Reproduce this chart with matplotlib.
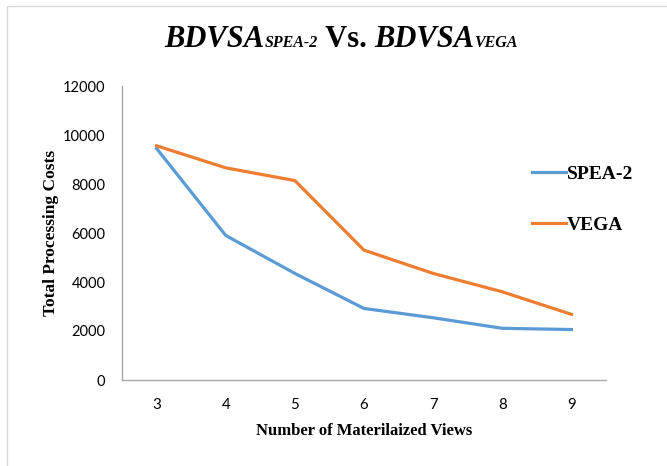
import matplotlib
matplotlib.use("Agg")
import matplotlib.pyplot as plt
from matplotlib.patches import Rectangle

views = [3, 4, 5, 6, 7, 8, 9]
spea2 = [9450, 5900, 4350, 2920, 2540, 2110, 2060]
vega = [9560, 8660, 8140, 5300, 4350, 3600, 2680]
series_names = ["SPEA-2", "VEGA"]
y_ticks = [0, 2000, 4000, 6000, 8000, 10000, 12000]

W, H, DPI = 667, 466, 100
fig = plt.figure(figsize=(W / DPI, H / DPI), dpi=DPI)

# outer frame
fig.add_artist(Rectangle((7 / W, -0.05), 1.2, 1 - 6 / H + 0.05, transform=fig.transFigure,
                         fill=False, edgecolor="#D9D9D9", linewidth=1.0))

ax = fig.add_axes([122 / W, 1 - 380 / H, (606 - 122) / W, (380 - 86) / H])
ax.plot(views, spea2, color="#5B9BD5", lw=2.3, label=series_names[0], solid_joinstyle="round")
ax.plot(views, vega, color="#ED7D31", lw=2.3, label=series_names[1], solid_joinstyle="round")

ax.set_xlim(2.5, 9.5)
ax.set_ylim(0, 12000)
ax.set_xticks(views)
ax.set_yticks(y_ticks)
ax.set_xticklabels([str(v) for v in views], fontfamily="Lato", fontsize=10.8)
ax.set_yticklabels([str(v) for v in y_ticks], fontfamily="Lato", fontsize=10.5)
ax.tick_params(axis="both", length=0, colors="black")
ax.tick_params(axis="y", pad=12)
ax.tick_params(axis="x", pad=13)
for s in ["top", "right"]:
    ax.spines[s].set_visible(False)
for s in ["left", "bottom"]:
    ax.spines[s].set_color("#A6A6A6")
    ax.spines[s].set_linewidth(1.0)

ax.set_xlabel("Number of Materilaized Views", fontfamily="Liberation Serif",
              fontweight="bold", fontsize=12, labelpad=8)
ax.set_ylabel("Total Processing Costs", fontfamily="Liberation Serif",
              fontweight="bold", fontsize=12.5, labelpad=3)

leg = ax.legend(loc="upper left", bbox_to_anchor=(532 / W, 1 - 165 / H),
                bbox_transform=fig.transFigure, frameon=False, borderaxespad=0,
                prop={"family": "Liberation Serif", "weight": "bold", "size": 14},
                handlelength=1.75, handletextpad=0.05, labelspacing=1.75, borderpad=0)

# title built from pieces
pieces = [("BDVSA", 22, "italic"), ("SPEA-2", 11.5, "italic"), (" Vs. ", 22, "normal"),
          ("BDVSA", 22, "italic"), ("VEGA", 11.5, "italic")]
fig.canvas.draw()
renderer = fig.canvas.get_renderer()
texts = []
widths = []
for s, size, style in pieces:
    t = fig.text(0, 1 - 47 / H, s, fontfamily="Liberation Serif", fontweight="bold",
                 fontstyle=style, fontsize=size, va="baseline", ha="left")
    texts.append(t)
    widths.append(t.get_window_extent(renderer).width)
total = sum(widths)
x = 341 - total / 2
for t, w in zip(texts, widths):
    t.set_x(x / W)
    x += w

fig.savefig("out.png", dpi=DPI)
